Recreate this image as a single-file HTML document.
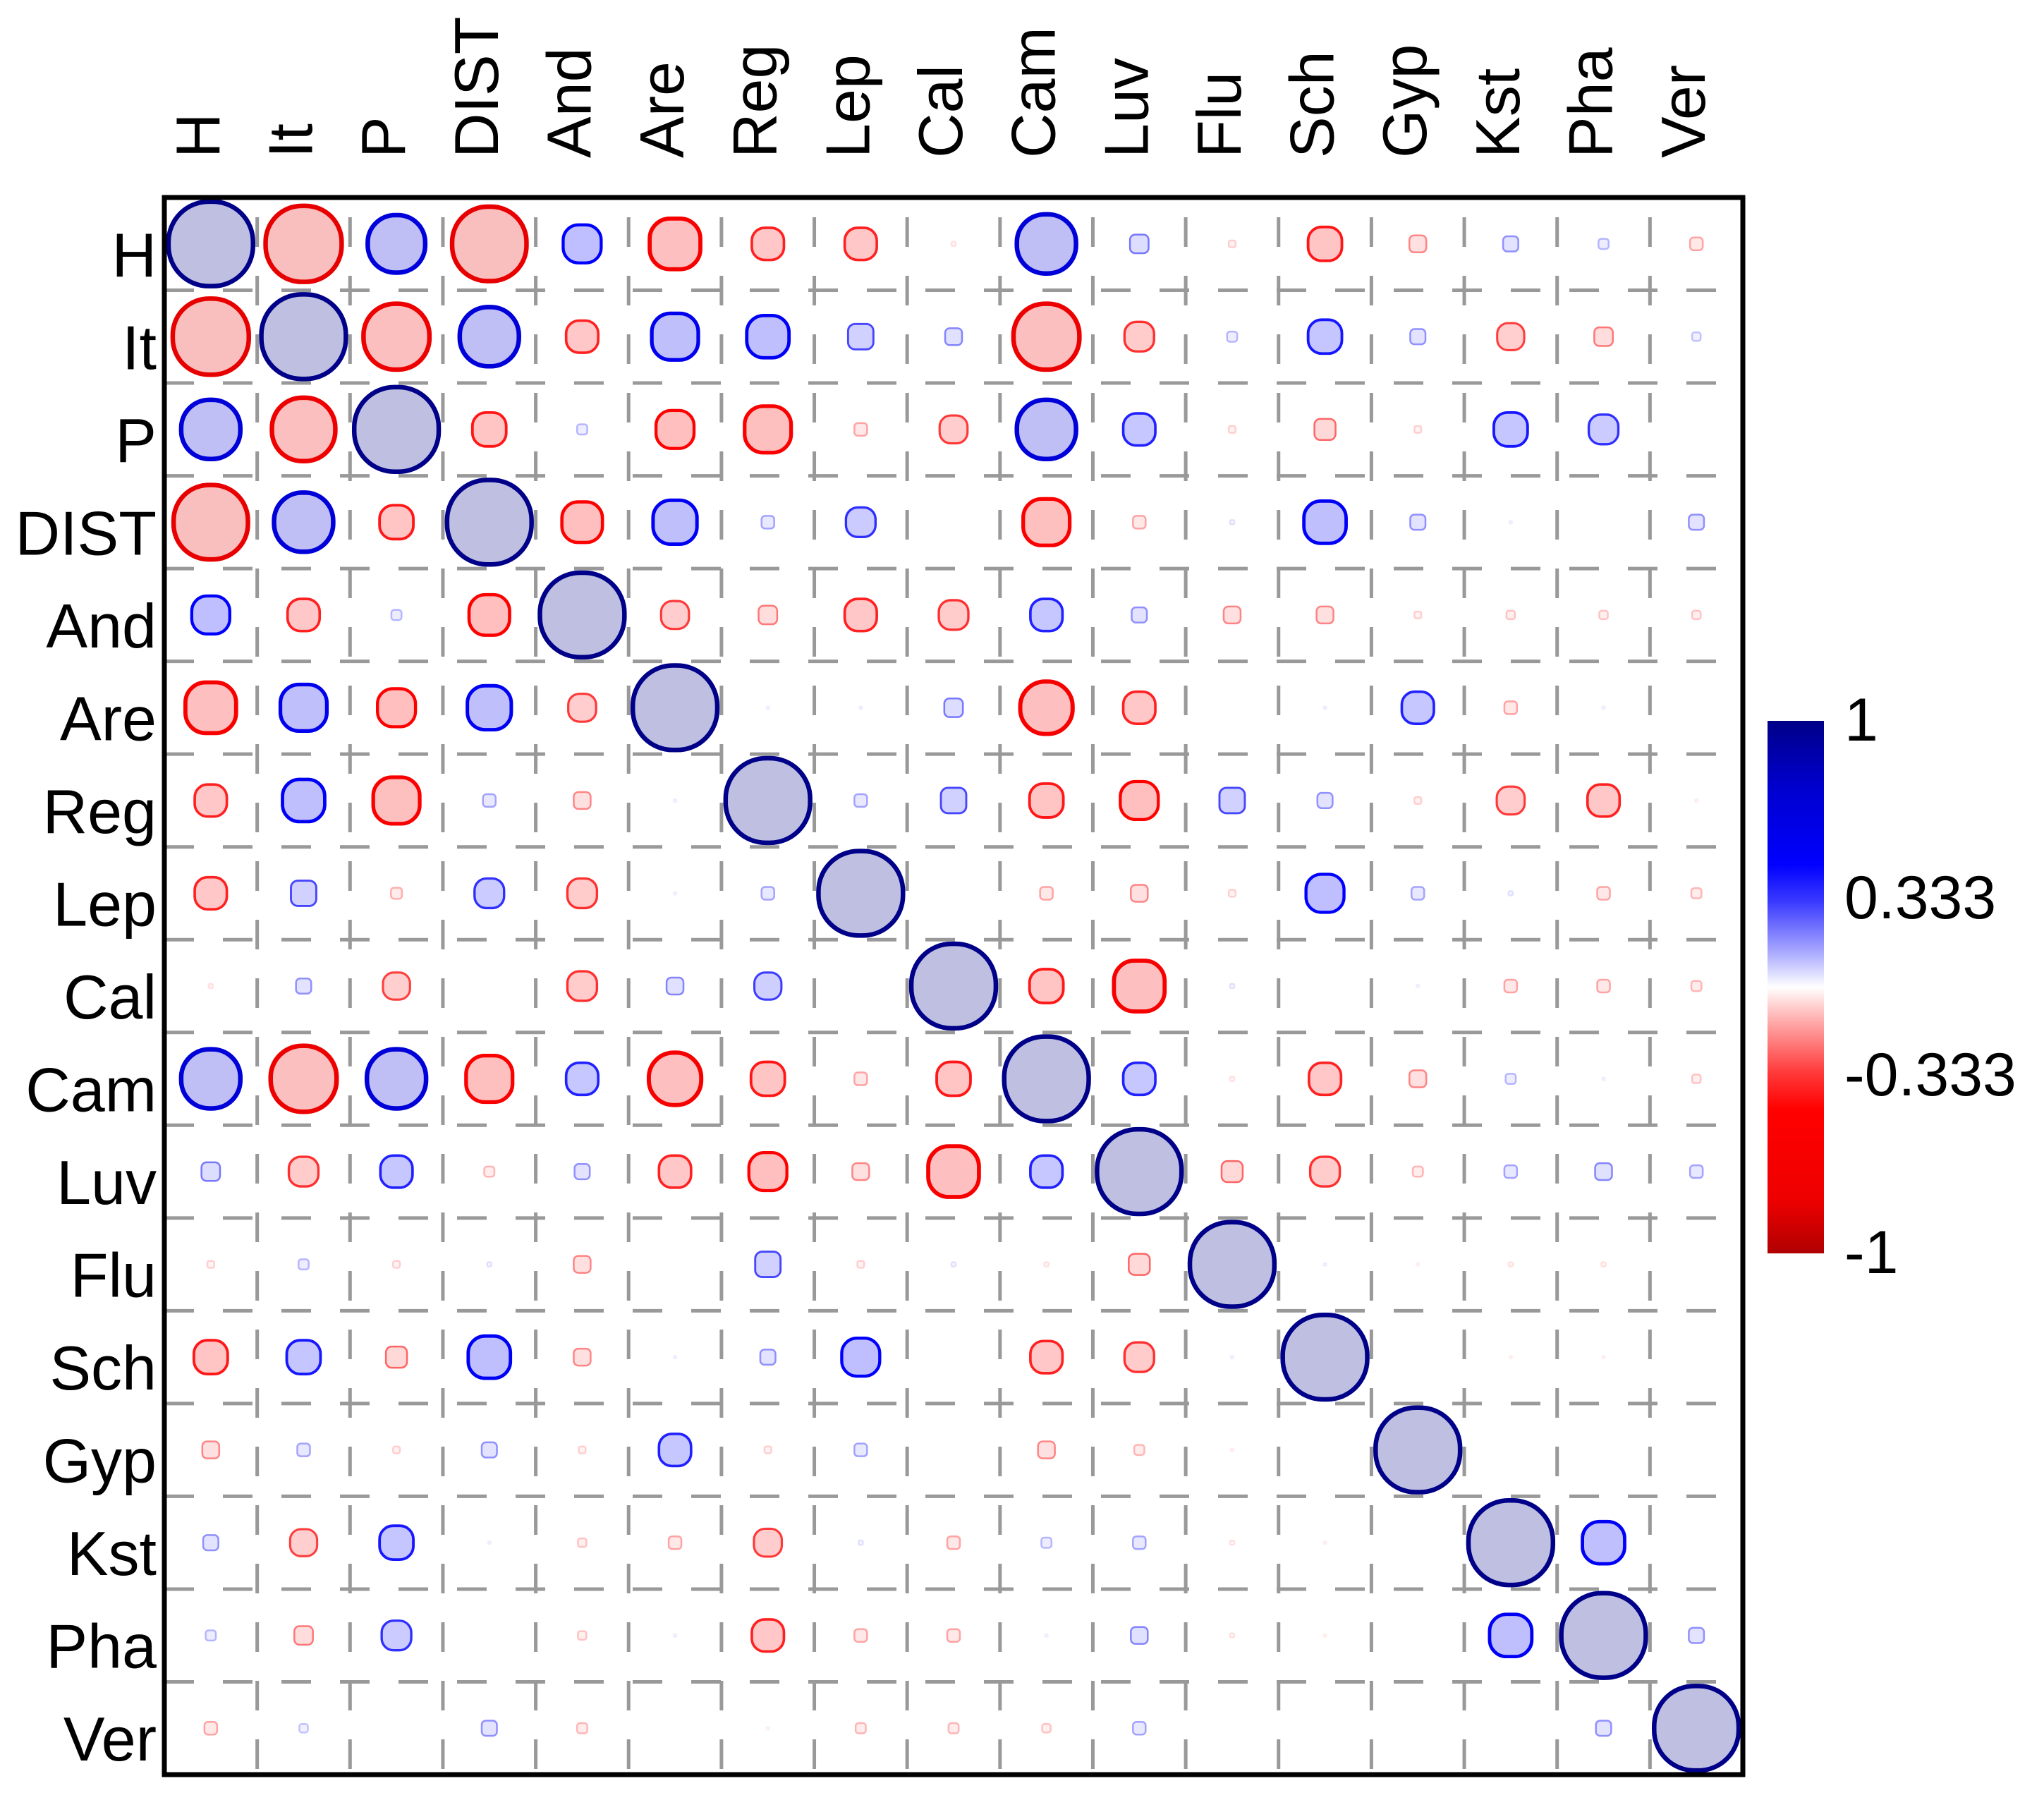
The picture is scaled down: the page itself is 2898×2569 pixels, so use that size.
<!DOCTYPE html>
<html><head><meta charset="utf-8"><style>
html,body{margin:0;padding:0;background:#fff;}
svg{display:block;font-family:"Liberation Sans",sans-serif;}
</style></head><body>
<svg id="chart" width="2898" height="2569" viewBox="0 0 2898 2569" xmlns="http://www.w3.org/2000/svg">
<defs>
<linearGradient id="cbar" x1="0" y1="0" x2="0" y2="1">
<stop offset="0" stop-color="#000088"/>
<stop offset="0.12" stop-color="#0000cc"/>
<stop offset="0.27" stop-color="#0000ff"/>
<stop offset="0.34" stop-color="#3a3aff"/>
<stop offset="0.44" stop-color="#b0b0ff"/>
<stop offset="0.5" stop-color="#ffffff"/>
<stop offset="0.56" stop-color="#ffb0b0"/>
<stop offset="0.66" stop-color="#ff3a3a"/>
<stop offset="0.73" stop-color="#ff0000"/>
<stop offset="0.9" stop-color="#ee0000"/>
<stop offset="1" stop-color="#b00000"/>
</linearGradient>
</defs>
<g id="grid"></g>
<g id="marks"></g>
<rect x="233" y="280" width="2238" height="2236" fill="none" stroke="#000" stroke-width="7"/>
<g id="labels"></g>
<rect x="2506" y="1022" width="80" height="755" fill="url(#cbar)"/>
<g id="cbticks" font-size="86" fill="#000"></g>
</svg>
<script>
const vars = ["H","It","P","DIST","And","Are","Reg","Lep","Cal","Cam","Luv","Flu","Sch","Gyp","Kst","Pha","Ver"];
const rowH    = [1,-0.9,0.68,-0.88,0.45,-0.6,-0.38,-0.38,-0.05,0.7,0.22,-0.08,-0.4,-0.2,0.18,0.12,-0.15];
const rowIt   = [-0.9,1,-0.78,0.7,-0.38,0.55,0.5,0.3,0.2,-0.78,-0.35,0.12,0.4,0.18,-0.32,-0.22,0.1];
const rowP    = [0.7,-0.75,1,-0.4,0.12,-0.45,-0.55,-0.15,-0.33,0.7,0.38,-0.08,-0.25,-0.08,0.4,0.35,0];
const rowDIST = [-0.88,0.7,-0.4,1,-0.48,0.52,0.15,0.35,0,-0.55,-0.15,0.05,0.5,0.18,0.03,0,0.18];
const rowAnd  = [0.45,-0.38,0.12,-0.48,1,-0.33,-0.22,-0.38,-0.35,0.38,0.18,-0.2,-0.2,-0.08,-0.1,-0.1,-0.1];
const rowAre  = [-0.6,0.55,-0.45,0.52,-0.33,1,0.03,0.03,0.22,-0.62,-0.38,0,0.03,0.38,-0.15,0.03,0];
const rowReg  = [-0.38,0.5,-0.55,0.15,-0.2,0.03,1,0.15,0.3,-0.4,-0.45,0.3,0.18,-0.08,-0.33,-0.38,-0.03];
const rowLep  = [-0.38,0.3,-0.13,0.35,-0.35,0.03,0.15,1,0,-0.15,-0.2,-0.08,0.45,0.15,0.05,-0.15,-0.12];
const rowCal  = [-0.05,0.18,-0.32,0,-0.35,0.2,0.32,0,1,-0.4,-0.6,0.05,0,0.03,-0.15,-0.15,-0.12];
const rowCam  = [0.7,-0.78,0.7,-0.55,0.38,-0.62,-0.4,-0.15,-0.4,1,0.38,-0.05,-0.38,-0.2,0.12,0.03,-0.1];
const rowLuv  = [0.22,-0.35,0.38,-0.12,0.18,-0.38,-0.45,-0.2,-0.6,0.38,1,-0.25,-0.35,-0.12,0.15,0.2,0.15];
const rowFlu  = [-0.08,0.12,-0.08,0.05,-0.2,0,0.3,-0.08,0.05,-0.05,-0.25,1,0.03,-0.03,-0.05,-0.05,0];
const rowSch  = [-0.4,0.4,-0.25,0.5,-0.2,0.03,0.18,0.45,0,-0.38,-0.35,0.03,1,0,-0.03,-0.03,0];
const rowGyp  = [-0.2,0.15,-0.08,0.18,-0.08,0.38,-0.08,0.15,0,-0.2,-0.12,-0.03,0,1,0,0,0];
const rowKst  = [0.18,-0.32,0.4,0.03,-0.1,-0.15,-0.33,0.05,-0.15,0.12,0.15,-0.05,-0.03,0,1,0.5,0];
const rowPha  = [0.12,-0.22,0.35,0,-0.1,0.03,-0.38,-0.15,-0.15,0.03,0.2,-0.05,-0.03,0,0.5,1,0.18];
const rowVer  = [-0.15,0.1,0,0.18,-0.12,0,-0.03,-0.12,-0.12,-0.1,0.15,0,0,0,0,0.18,1];
const matrix = [rowH,rowIt,rowP,rowDIST,rowAnd,rowAre,rowReg,rowLep,rowCal,rowCam,rowLuv,rowFlu,rowSch,rowGyp,rowKst,rowPha,rowVer];
const cbTicks = ["1","0.333","-0.333","-1"];
const cbVals = [1,0.333,-0.333,-1];

const NS="http://www.w3.org/2000/svg";
const X0=233,Y0=280,W=2238,H=2236,n=vars.length,cw=W/n,ch=H/n;
const xPos=i=>X0+cw*(i+0.5), yPos=i=>Y0+ch*(i+0.5);
function mk(t,a){const e=document.createElementNS(NS,t);for(const k in a)e.setAttribute(k,a[k]);return e;}
function lerp(a,b,t){return a.map((v,i)=>v+(b[i]-v)*t);}
const stops=[[-1,[190,0,0]],[-0.95,[228,0,0]],[-0.45,[255,0,0]],[-0.3,[255,70,70]],[0,[255,255,255]],[0.3,[70,70,255]],[0.45,[0,0,255]],[0.8,[0,0,200]],[1,[0,0,136]]];
function cmap(v){for(let i=0;i<stops.length-1;i++){if(v<=stops[i+1][0]){const t=(v-stops[i][0])/(stops[i+1][0]-stops[i][0]);return lerp(stops[i][1],stops[i+1][1],t);}}return stops[stops.length-1][1];}
const rgb=c=>`rgb(${c.map(x=>Math.round(x)).join(',')})`;

const grid=document.getElementById('grid');
for(let i=1;i<n;i++){
  const y=Y0+ch*i, x=X0+cw*i;
  const hl=mk('line',{x1:X0,y1:y,x2:X0+W,y2:y,stroke:'#999',"stroke-width":5,"stroke-dasharray":"42 41"});
  
  
  grid.appendChild(hl);
  const vl=mk('line',{x1:x,y1:Y0,x2:x,y2:Y0+H,stroke:'#999',"stroke-width":5,"stroke-dasharray":"42 41","stroke-dashoffset":"-28"});
  
  
  grid.appendChild(vl);
}
const marks=document.getElementById('marks');
const rmax=cw*0.455;
for(let r=0;r<n;r++)for(let c=0;c<n;c++){
  const v=matrix[r][c]; const a=Math.abs(v); if(a<0.02)continue;
  const rad=rmax*a; const col=cmap(v);
  const fill=lerp([255,255,255],col,0.25);
  const sw=Math.max(2.5,Math.min(6.5,rad*0.16));
  const m=mk('rect',{x:xPos(c)-rad,y:yPos(r)-rad,width:2*rad,height:2*rad,rx:rad*(a>0.6?0.95:(a>0.3?0.8:0.55)),fill:rgb(fill),stroke:rgb(col),"stroke-width":sw});
  
  
  marks.appendChild(m);
}
const labels=document.getElementById('labels');
vars.forEach((s,i)=>{
  const t=mk('text',{x:222,y:yPos(i)+46,"text-anchor":"end","font-size":88});
  t.textContent=s;
  
  
  labels.appendChild(t);
  const u=mk('text',{transform:`translate(${xPos(i)+12},224) rotate(-90)`,"text-anchor":"start","font-size":88});
  u.textContent=s;
  
  
  labels.appendChild(u);
});
const cb=document.getElementById('cbticks');
const cbY=v=>1022+(1-v)/2*755;
cbTicks.forEach((s,i)=>{
  const t=mk('text',{x:2615,y:cbY(cbVals[i])+28});
  t.textContent=s;
  
  
  cb.appendChild(t);
});
</script>
</body></html>
